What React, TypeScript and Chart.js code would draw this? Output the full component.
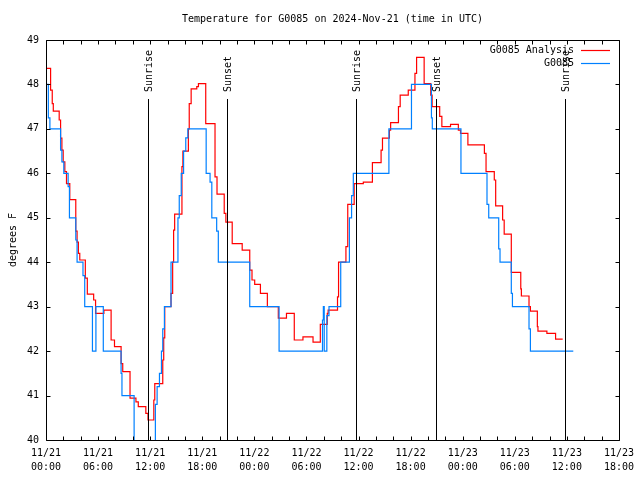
import React, { useEffect, useRef } from "react";
import { Chart, registerables } from "chart.js";

Chart.register(...registerables);

// ---- Text ----
const TITLE = "Temperature for G0085 on 2024-Nov-21 (time in UTC)";
const Y_LABEL = "degrees F";
const ANALYSIS_LABEL = "G0085 Analysis";
const OBS_LABEL = "G0085";

// ---- Axes ----
const DAY_LABELS = ["11/21", "11/22", "11/23"];
const X_MIN = 0; // hours since 11/21 00:00 UTC
const X_MAX = 66;
const X_MAJOR = 6;
const X_MINOR = 2;
const Y_MIN = 40;
const Y_MAX = 49;

// ---- Sun events (hours since 11/21 00:00 UTC) ----
const sunLabels = ["Sunrise", "Sunset", "Sunrise", "Sunset", "Sunrise"];
const sunHours = [11.73, 20.9, 35.74, 44.87, 59.8];

// ---- G0085 Analysis (step start hour, temp F) ----
const analysisHours = [
  0.0, 0.53, 0.72, 0.84, 1.52, 1.68, 1.83, 1.98, 2.17, 2.36, 2.74, 3.43, 3.58, 3.73, 3.89,
  4.53, 4.76, 5.49, 5.71, 6.67, 7.5, 7.89, 8.65, 8.84, 9.68, 10.36, 10.63, 11.5, 11.75,
  12.42, 12.53, 13.45, 13.56, 13.68, 14.4, 14.59, 14.7, 14.82, 15.66, 15.77, 16.4, 16.5,
  16.72, 17.37, 17.56, 18.4, 19.47, 19.7, 20.53, 20.72, 21.45, 22.6, 23.47, 23.73, 24.04,
  24.7, 25.5, 26.76, 27.7, 28.6, 29.6, 30.76, 31.6, 32.4, 32.5, 33.58, 33.7, 34.55, 34.76,
  35.5, 36.55, 37.6, 38.6, 38.76, 39.56, 39.7, 40.6, 40.8, 41.73, 42.5, 42.69, 43.56,
  44.32, 44.48, 45.35, 45.6, 46.6, 47.5, 47.75, 48.6, 50.5, 50.69, 51.64, 51.8, 52.6,
  52.78, 53.6, 54.69, 54.76, 55.64, 55.8, 56.6, 56.67, 57.7, 58.7, 59.52,
];
const analysisTemps = [
  48.36, 47.87, 47.57, 47.4, 47.2, 46.79, 46.52, 46.26, 46.04, 45.77, 45.41, 44.7, 44.45, 44.2, 44.05,
  43.64, 43.28, 43.15, 42.85, 42.92, 42.25, 42.1, 41.72, 41.54, 40.94, 40.86, 40.75, 40.6, 40.45,
  40.9, 41.27, 41.8, 42.3, 43.0, 43.3, 44.0, 44.72, 45.08, 46.15, 46.5, 47.0, 47.57,
  47.9, 47.95, 48.02, 47.12, 45.92, 45.53, 45.1, 44.9, 44.42, 44.27, 43.82, 43.6, 43.5,
  43.3, 43.0, 42.74, 42.85, 42.25, 42.32, 42.2, 42.6, 42.85, 42.92, 43.22, 44.0, 44.35, 45.3,
  45.77, 45.8, 46.24, 46.52, 46.79, 46.97, 47.14, 47.5, 47.76, 47.87, 48.25, 48.61, 48.02,
  47.76, 47.5, 47.28, 47.05, 47.1, 46.97, 46.9, 46.64, 46.45, 46.04, 45.85, 45.27, 44.95,
  44.63, 43.77, 43.4, 43.24, 43.0, 42.9, 42.55, 42.45, 42.4, 42.27, 42.27,
];

// ---- G0085 observed (step start hour, temp F) ----
const obsHours = [
  0.0, 0.27, 0.45, 1.68, 1.83, 2.05, 2.55, 2.7, 3.43, 3.58, 4.26, 4.46, 5.35, 5.75, 6.6,
  8.65, 8.75, 10.15, 12.6, 12.8, 13.07, 13.3, 13.45, 13.64, 14.4, 15.2, 15.35, 15.58,
  15.85, 16.1, 16.34, 18.45, 18.9, 19.1, 19.66, 19.85, 23.47, 26.85, 31.85, 31.95, 32.05,
  32.35, 32.6, 33.95, 34.95, 35.2, 35.4, 39.5, 42.1, 44.4, 44.5, 47.8, 50.8, 51.0, 52.15,
  52.3, 53.6, 53.73, 55.64, 55.8, 60.74,
];
const obsTemps = [
  48.0, 47.25, 47.0, 46.52, 46.26, 46.0, 45.7, 45.0, 44.5, 44.0, 43.7, 43.0, 42.0, 43.0, 42.0,
  41.5, 41.0, 39.5, 40.8, 41.2, 41.5, 42.0, 42.5, 43.0, 44.0, 45.0, 45.5, 46.0,
  46.5, 46.8, 47.0, 46.0, 45.8, 45.0, 44.7, 44.0, 43.0, 42.0, 42.7, 43.0, 42.0,
  42.8, 43.0, 44.0, 45.0, 45.5, 46.0, 47.0, 48.0, 47.25, 47.0, 46.0, 45.3, 45.0, 44.3,
  44.0, 43.3, 43.0, 42.5, 42.0, 42.0,
];

const RED = "#ff0000";
const BLUE = "#0080ff";
const FONT = "DejaVu Sans Mono";

function toPoints(xs: number[], ys: number[]) {
  return xs.map((x, i) => ({ x, y: ys[i] }));
}

function pad2(n: number) {
  return n < 10 ? "0" + n : String(n);
}

const decorPlugin = {
  id: "gnuplotDecor",
  afterDatasetsDraw(chart: any) {
    const ctx = chart.ctx as CanvasRenderingContext2D;
    const xs = chart.scales.x;
    const ys = chart.scales.y;
    const { left, right, top, bottom } = chart.chartArea;
    const L = Math.round(left) + 0.5;
    const R = Math.round(right) + 0.5;
    const T = Math.round(top) + 0.5;
    const B = Math.round(bottom) + 0.5;
    ctx.save();
    ctx.strokeStyle = "#000";
    ctx.lineWidth = 1;

    // sun lines
    ctx.beginPath();
    sunHours.forEach((h) => {
      const px = Math.round(xs.getPixelForValue(h)) + 0.5;
      ctx.moveTo(px, 99);
      ctx.lineTo(px, B);
    });
    ctx.stroke();

    // border
    ctx.beginPath();
    ctx.rect(L, T, R - L, B - T);
    ctx.stroke();

    // ticks (inward, mirrored)
    const tl = 4;
    ctx.beginPath();
    for (let h = X_MIN; h <= X_MAX; h += X_MINOR) {
      const px = Math.round(xs.getPixelForValue(h)) + 0.5;
      ctx.moveTo(px, B);
      ctx.lineTo(px, B - tl);
      ctx.moveTo(px, T);
      ctx.lineTo(px, T + tl);
    }
    for (let v = Y_MIN; v <= Y_MAX; v += 1) {
      const py = Math.round(ys.getPixelForValue(v)) + 0.5;
      ctx.moveTo(L, py);
      ctx.lineTo(L + tl, py);
      ctx.moveTo(R, py);
      ctx.lineTo(R - tl, py);
    }
    ctx.stroke();

    ctx.fillStyle = "#000";
    ctx.font = `10px "${FONT}"`;

    // sun labels
    sunHours.forEach((h, i) => {
      const px = Math.round(xs.getPixelForValue(h)) + 0.5;
      ctx.save();
      ctx.translate(px + 1, 92);
      ctx.rotate(-Math.PI / 2);
      ctx.textAlign = "left";
      ctx.textBaseline = "middle";
      ctx.fillText(sunLabels[i], 0, 0);
      ctx.restore();
    });

    // legend
    ctx.textAlign = "right";
    ctx.textBaseline = "middle";
    ctx.fillText(ANALYSIS_LABEL, 574, 50);
    ctx.fillText(OBS_LABEL, 574, 63);
    ctx.lineWidth = 1.2;
    ctx.strokeStyle = RED;
    ctx.beginPath();
    ctx.moveTo(581, 50.5);
    ctx.lineTo(610, 50.5);
    ctx.stroke();
    ctx.strokeStyle = BLUE;
    ctx.beginPath();
    ctx.moveTo(581, 63.5);
    ctx.lineTo(610, 63.5);
    ctx.stroke();

    // title
    ctx.textAlign = "center";
    ctx.fillText(TITLE, (left + right) / 2, 19);

    // y label
    ctx.save();
    ctx.translate(13, (top + bottom) / 2);
    ctx.rotate(-Math.PI / 2);
    ctx.textAlign = "center";
    ctx.textBaseline = "middle";
    ctx.fillText(Y_LABEL, 0, 0);
    ctx.restore();

    ctx.restore();
  },
};

export default function App() {
  const ref = useRef<HTMLCanvasElement | null>(null);

  useEffect(() => {
    if (!ref.current) return;
    const chart = new Chart(ref.current, {
      type: "line",
      data: {
        datasets: [
          {
            label: OBS_LABEL,
            data: toPoints(obsHours, obsTemps),
            borderColor: BLUE,
            backgroundColor: BLUE,
            borderWidth: 1.2,
            pointRadius: 0,
            stepped: "before",
            fill: false,
          },
          {
            label: ANALYSIS_LABEL,
            data: toPoints(analysisHours, analysisTemps),
            borderColor: RED,
            backgroundColor: RED,
            borderWidth: 1.2,
            pointRadius: 0,
            stepped: "before",
            fill: false,
          },
        ],
      },
      options: {
        animation: false,
        responsive: false,
        maintainAspectRatio: false,
        layout: { padding: { left: 0, top: 40, right: 18, bottom: 0 } },
        plugins: {
          legend: { display: false },
          title: { display: false },
          tooltip: { enabled: false },
        },
        scales: {
          x: {
            type: "linear",
            min: X_MIN,
            max: X_MAX,
            grid: { display: false, drawTicks: false },
            border: { display: false },
            afterFit: (s: any) => {
              s.height = 40;
            },
            ticks: {
              stepSize: X_MAJOR,
              autoSkip: false,
              maxRotation: 0,
              minRotation: 0,
              padding: 6,
              color: "#000",
              font: { family: FONT, size: 10, lineHeight: 1.4 },
              callback: (v: any) => {
                const n = Number(v);
                const d = Math.floor(n / 24);
                const hh = n - d * 24;
                return [DAY_LABELS[d], pad2(hh) + ":00"];
              },
            },
          },
          y: {
            type: "linear",
            min: Y_MIN,
            max: Y_MAX,
            grid: { display: false, drawTicks: false },
            border: { display: false },
            afterFit: (s: any) => {
              s.width = 46;
            },
            ticks: {
              stepSize: 1,
              padding: 7,
              color: "#000",
              font: { family: FONT, size: 10 },
            },
          },
        },
      },
      plugins: [decorPlugin],
    });
    return () => chart.destroy();
  }, []);

  return (
    <div style={{ position: "fixed", left: 0, top: 0, width: 640, height: 480, background: "#fff" }}>
      <canvas ref={ref} width={640} height={480} style={{ display: "block" }} />
    </div>
  );
}
